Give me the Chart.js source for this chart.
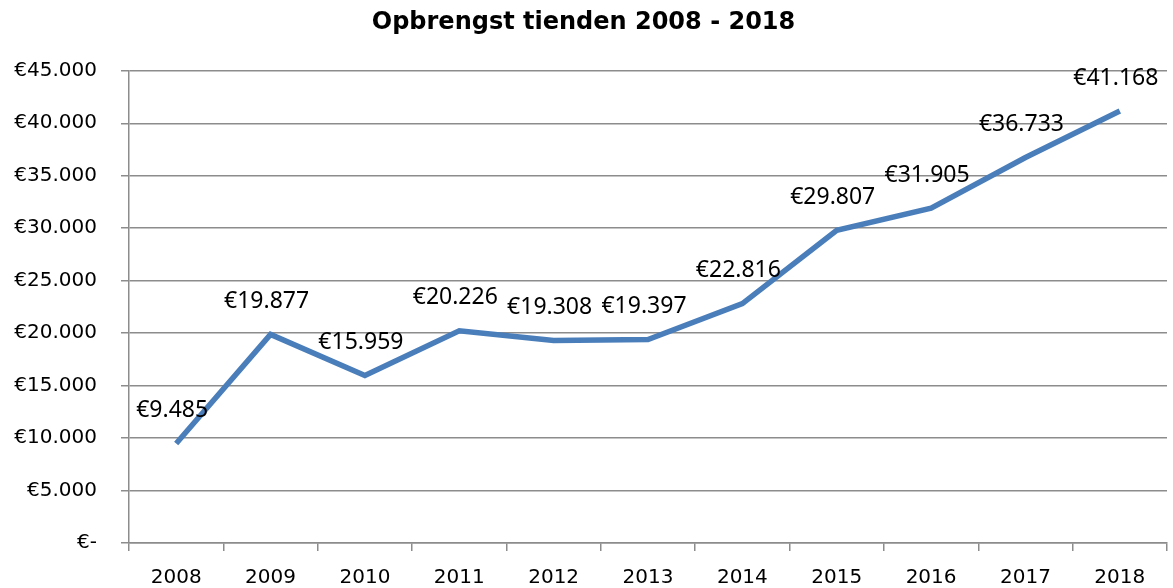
<!DOCTYPE html>
<html>
<head>
<meta charset="utf-8">
<script src="https://cdn.jsdelivr.net/npm/chart.js@4"></script>
<style>
  html, body { margin: 0; padding: 0; background: #fff; }
  #chart { display: block; }
</style>
</head>
<body>
<canvas id="chart" width="1173" height="588"></canvas>
<script>
// Jaren en opbrengsten (euro)
const years = ['2008', '2009', '2010', '2011', '2012', '2013', '2014', '2015', '2016', '2017', '2018'];
const revenue = [9485, 19877, 15959, 20226, 19308, 19397, 22816, 29807, 31905, 36733, 41168];
const yMin = 0;
const yMax = 45000;
const yStep = 5000;

// Bedrag in Nederlandse notatie: €41.168, nul als €-
function formatEuro(value) {
    if (value === 0) return '€-';
    return '€' + String(Math.round(value)).replace(/\B(?=(\d{3})+(?!\d))/g, '.');
}

// Tekstlabels boven de punten
const valueLabels = {
    id: 'valueLabels',
    afterDatasetsDraw(chart) {
        const ctx = chart.ctx;
        const meta = chart.getDatasetMeta(0);
        ctx.save();
        ctx.font = '23px "Noto Sans"';
        ctx.fillStyle = '#000';
        ctx.textAlign = 'center';
        ctx.textBaseline = 'middle';
        meta.data.forEach((point, i) => {
            ctx.fillText(formatEuro(chart.data.datasets[0].data[i]), point.x - 4, point.y - 33);
        });
        ctx.restore();
    }
};

const ctx = document.getElementById('chart').getContext('2d');
new Chart(ctx, {
    type: 'line',
    data: {
        labels: years,
        datasets: [{
            label: 'Opbrengst',
            data: revenue,
            borderColor: '#4a7ebb',
            borderWidth: 5.5,
            pointRadius: 0,
            tension: 0,
            fill: false
        }]
    },
    options: {
        responsive: false,
        animation: false,
        layout: { padding: { top: 0, right: 6, bottom: 0, left: 0 } },
        plugins: {
            legend: { display: false },
            tooltip: { enabled: false },
            title: {
                display: true,
                text: 'Opbrengst tienden 2008 - 2018',
                color: '#000',
                font: { family: 'DejaVu Sans', size: 24, weight: 'bold', lineHeight: 1.2 },
                padding: { top: 8, bottom: 34 }
            }
        },
        scales: {
            x: {
                offset: true,
                border: { display: true, color: '#8c8c8c', width: 1.5 },
                grid: { display: true, offset: true, drawOnChartArea: false, drawTicks: true, tickLength: 8, color: '#8c8c8c', lineWidth: 1.5 },
                ticks: { color: '#000', font: { family: 'DejaVu Sans', size: 20 }, padding: 15, maxRotation: 0 },
                afterFit: scale => { scale.height = 45; }
            },
            y: {
                min: yMin,
                max: yMax,
                border: { display: true, color: '#8c8c8c', width: 1.5 },
                grid: { color: '#8c8c8c', lineWidth: 1.5, tickLength: 8 },
                ticks: {
                    stepSize: yStep,
                    color: '#000',
                    font: { family: 'DejaVu Sans', size: 20 },
                    padding: 24,
                    callback: value => formatEuro(value)
                },
                afterFit: scale => { scale.width = 129; }
            }
        }
    },
    plugins: [valueLabels]
});
</script>
</body>
</html>
